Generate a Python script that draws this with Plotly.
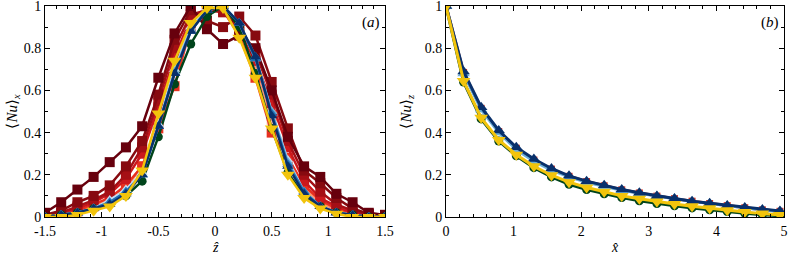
import plotly.graph_objects as go

# ---------------- data: panel (a) ----------------
za = [-1.5, -1.357, -1.214, -1.071, -0.929, -0.786, -0.643, -0.5, -0.357, -0.214, -0.071,
      0.071, 0.214, 0.357, 0.5, 0.643, 0.786, 0.929, 1.071, 1.214, 1.357, 1.5]

red1 = [0.02, 0.07, 0.13, 0.19, 0.26, 0.33, 0.43, 0.66, 0.87, 1.0, 0.89, 0.82, 0.86, 0.80, 0.60, 0.38, 0.24, 0.19, 0.11, 0.07, 0.02, 0.01]
red2 = [0.01, 0.03, 0.07, 0.10, 0.15, 0.24, 0.36, 0.58, 0.84, 0.98, 0.93, 0.90, 0.95, 0.86, 0.64, 0.42, 0.22, 0.16, 0.09, 0.04, 0.015, 0.01]
red3 = [0.01, 0.02, 0.05, 0.08, 0.12, 0.20, 0.33, 0.55, 0.80, 0.96, 0.98, 0.97, 0.90, 0.78, 0.58, 0.36, 0.20, 0.12, 0.06, 0.03, 0.01, 0.0]
red4 = [0.0, 0.02, 0.04, 0.07, 0.11, 0.18, 0.30, 0.52, 0.76, 0.94, 0.99, 0.98, 0.88, 0.74, 0.54, 0.33, 0.17, 0.09, 0.05, 0.02, 0.01, 0.0]
red5 = [0.0, 0.01, 0.03, 0.06, 0.09, 0.15, 0.24, 0.42, 0.62, 0.90, 1.0, 0.98, 0.86, 0.66, 0.40, 0.28, 0.15, 0.08, 0.04, 0.02, 0.01, 0.0]
red6 = [0.0, 0.01, 0.03, 0.05, 0.08, 0.14, 0.24, 0.46, 0.70, 0.90, 0.99, 0.99, 0.87, 0.70, 0.48, 0.28, 0.14, 0.07, 0.03, 0.01, 0.0, 0.0]
red7 = [0.0, 0.01, 0.02, 0.05, 0.08, 0.14, 0.24, 0.45, 0.70, 0.90, 1.0, 0.99, 0.88, 0.69, 0.46, 0.27, 0.13, 0.06, 0.03, 0.01, 0.0, 0.0]
green1 = [0.0, 0.01, 0.02, 0.04, 0.06, 0.10, 0.17, 0.38, 0.63, 0.82, 0.95, 1.0, 0.90, 0.68, 0.42, 0.21, 0.10, 0.05, 0.02, 0.01, 0.0, 0.0]
blue1 = [0.0, 0.01, 0.02, 0.04, 0.08, 0.13, 0.21, 0.44, 0.70, 0.90, 0.99, 1.0, 0.92, 0.75, 0.50, 0.27, 0.12, 0.05, 0.02, 0.01, 0.0, 0.0]
blue2 = [0.0, 0.01, 0.02, 0.04, 0.07, 0.12, 0.20, 0.43, 0.69, 0.89, 0.98, 1.0, 0.92, 0.76, 0.50, 0.26, 0.12, 0.05, 0.02, 0.01, 0.0, 0.0]
blue3 = [0.0, 0.01, 0.02, 0.04, 0.07, 0.12, 0.20, 0.43, 0.68, 0.88, 0.98, 1.0, 0.92, 0.75, 0.49, 0.25, 0.12, 0.05, 0.02, 0.01, 0.0, 0.0]
blue4 = [0.0, 0.01, 0.02, 0.04, 0.06, 0.11, 0.20, 0.43, 0.68, 0.88, 0.98, 1.0, 0.92, 0.76, 0.48, 0.24, 0.11, 0.05, 0.02, 0.01, 0.0, 0.0]
yellow1 = [0.0, 0.0, 0.01, 0.03, 0.05, 0.10, 0.22, 0.49, 0.74, 0.92, 0.99, 0.99, 0.85, 0.66, 0.42, 0.20, 0.09, 0.04, 0.015, 0.0, 0.0, 0.0]

# ---------------- data: panel (b) ----------------
xb = [0.0, 0.26, 0.52, 0.78, 1.04, 1.30, 1.56, 1.82, 2.08, 2.34, 2.60, 2.86, 3.12, 3.38,
      3.64, 3.90, 4.16, 4.42, 4.68, 4.94]

red_b = [1.0, 0.685, 0.515, 0.405, 0.326, 0.27, 0.227, 0.193, 0.168, 0.148, 0.129, 0.114, 0.099, 0.087, 0.075, 0.064, 0.054, 0.044, 0.034, 0.027]
green_b = [1.0, 0.64, 0.465, 0.36, 0.29, 0.234, 0.19, 0.155, 0.13, 0.11, 0.092, 0.077, 0.064, 0.053, 0.043, 0.034, 0.026, 0.018, 0.011, 0.006]
lblue_b = [1.0, 0.68, 0.51, 0.40, 0.32, 0.265, 0.222, 0.19, 0.165, 0.145, 0.127, 0.112, 0.098, 0.086, 0.074, 0.063, 0.053, 0.043, 0.033, 0.026]
dblue_b = [1.0, 0.69, 0.52, 0.41, 0.33, 0.275, 0.23, 0.195, 0.17, 0.15, 0.13, 0.115, 0.10, 0.088, 0.075, 0.065, 0.055, 0.045, 0.035, 0.028]
yellow_b = [1.0, 0.645, 0.47, 0.365, 0.295, 0.24, 0.198, 0.165, 0.14, 0.12, 0.10, 0.086, 0.073, 0.062, 0.051, 0.041, 0.032, 0.024, 0.016, 0.01]

xa_ticks = [-1.5, -1, -0.5, 0, 0.5, 1, 1.5]
xa_text = ["-1.5", "-1", "-0.5", "0", "0.5", "1", "1.5"]
xb_ticks = [0, 1, 2, 3, 4, 5]
xb_text = ["0", "1", "2", "3", "4", "5"]
y_ticks = [0, 0.2, 0.4, 0.6, 0.8, 1]
y_text = ["0", "0.2", "0.4", "0.6", "0.8", "1"]

FONT = "Liberation Serif"

series_a = [
    (red7, "#fcbba1", "square", 10), (red6, "#fc9272", "square", 10), (red5, "#e8301f", "square", 10),
    (red4, "#cb181d", "square", 10), (red3, "#a50f15", "square", 10), (red2, "#870a10", "square", 10),
    (red1, "#67000d", "square", 10),
    (green1, "#00441b", "circle", 9),
    (blue1, "#c6dbef", "triangle-up", 10), (blue2, "#6baed6", "triangle-up", 10),
    (blue3, "#2171b5", "triangle-up", 10), (blue4, "#08306b", "triangle-up", 10),
    (yellow1, "#f2c40c", "triangle-down", 12),
]
series_b = [
    (red_b, "#d7301f", "square", 7),
    (green_b, "#00441b", "circle", 9),
    (lblue_b, "#6baed6", "triangle-up", 11),
    (dblue_b, "#08306b", "triangle-up", 11),
    (yellow_b, "#f2c40c", "triangle-down", 12),
]

fig = go.Figure()
for ys, col, sym, ms in series_a:
    fig.add_trace(go.Scatter(x=za, y=ys, mode="lines+markers", xaxis="x", yaxis="y",
                             line=dict(color=col, width=2.5),
                             marker=dict(color=col, symbol=sym, size=ms, line=dict(width=0)),
                             showlegend=False, hoverinfo="skip"))
for ys, col, sym, ms in series_b:
    fig.add_trace(go.Scatter(x=xb, y=ys, mode="lines+markers", xaxis="x2", yaxis="y2",
                             line=dict(color=col, width=3),
                             marker=dict(color=col, symbol=sym, size=ms, line=dict(width=0)),
                             showlegend=False, hoverinfo="skip"))

W, H = 789, 256

def axis_common():
    return dict(showline=True, linecolor="black", linewidth=1, mirror="ticks",
                ticks="inside", ticklen=5, tickcolor="black", tickwidth=1,
                showgrid=False, zeroline=False, automargin=False,
                ticklabeloverflow="allow",
                tickfont=dict(family=FONT, size=14, color="black"))

xa = axis_common()
xa.update(domain=[45 / W, 385 / W], range=[-1.5, 1.5], tickvals=xa_ticks, ticktext=xa_text,
          ticklabelstandoff=1,
          minor=dict(ticks="inside", ticklen=3, dtick=0.1, tickcolor="black"), anchor="y")
xa2 = axis_common()
xa2.update(domain=[446 / W, 784 / W], range=[0, 5], tickvals=xb_ticks, ticktext=xb_text,
           ticklabelstandoff=1,
           minor=dict(ticks="inside", ticklen=3, dtick=0.2, tickcolor="black"), anchor="y2")
ya = axis_common()
ya.update(domain=[0, 1], range=[0, 1], tickvals=y_ticks, ticktext=y_text,
          minor=dict(ticks="inside", ticklen=3, dtick=0.1, tickcolor="black"), anchor="x")
ya2 = axis_common()
ya2.update(domain=[0, 1], range=[0, 1], tickvals=y_ticks, ticktext=y_text,
           minor=dict(ticks="inside", ticklen=3, dtick=0.1, tickcolor="black"), anchor="x2")

tf = dict(family=FONT, size=15, color="black")
xt = dict(family=FONT, size=14, color="black")
fig.update_layout(
    width=W, height=H,
    margin=dict(l=0, r=0, t=6, b=39),
    paper_bgcolor="white", plot_bgcolor="white",
    xaxis=xa, yaxis=ya, xaxis2=xa2, yaxis2=ya2,
    annotations=[
        dict(text="(<i>a</i>)", xref="x domain", yref="y domain", x=0.99, y=0.97,
             xanchor="right", yanchor="top", showarrow=False, font=tf),
        dict(text="(<i>b</i>)", xref="x2 domain", yref="y2 domain", x=0.99, y=0.97,
             xanchor="right", yanchor="top", showarrow=False, font=tf),
        dict(text="⟨<i>Nu</i>⟩<sub><i>x</i></sub>", xref="paper", yref="paper",
             x=12 / W, y=0.5, textangle=-90, showarrow=False, font=tf,
             xanchor="center", yanchor="middle"),
        dict(text="⟨<i>Nu</i>⟩<sub><i>z</i></sub>", xref="paper", yref="paper",
             x=406 / W, y=0.5, textangle=-90, showarrow=False, font=tf,
             xanchor="center", yanchor="middle"),
        dict(text="<i>ẑ</i>", xref="paper", yref="paper", x=215 / W, y=-21 / 211,
             showarrow=False, font=xt, xanchor="center", yanchor="top"),
        dict(text="<i>x̂</i>", xref="paper", yref="paper", x=615 / W, y=-21 / 211,
             showarrow=False, font=xt, xanchor="center", yanchor="top"),
    ],
)

fig.write_html("out.html", config={"displayModeBar": False},
               post_script="document.body.style.margin='0';document.body.style.overflow='hidden';")
